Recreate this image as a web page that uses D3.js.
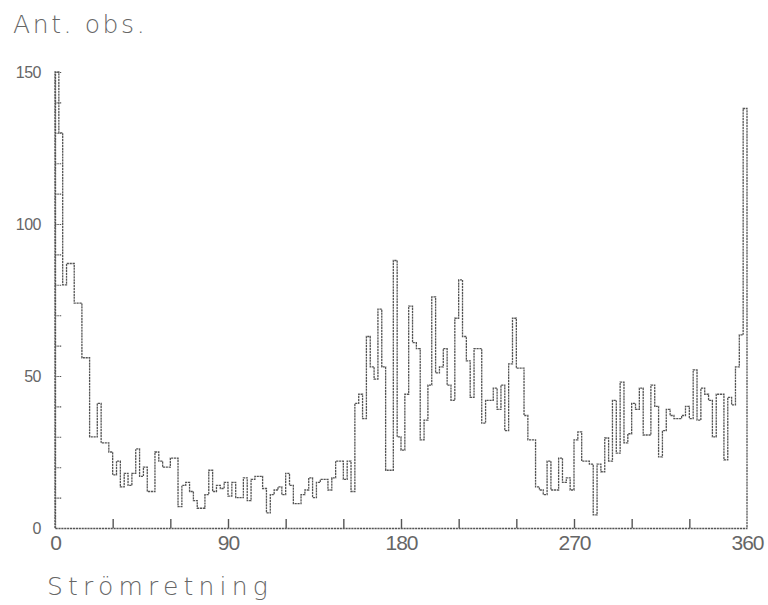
<!DOCTYPE html>
<html><head><meta charset="utf-8">
<script src="https://cdn.jsdelivr.net/npm/d3@7"></script>
<style>
html,body{margin:0;padding:0;background:#fff;}
svg{display:block;}
</style>
</head><body>
<svg id="chart" width="768" height="605"></svg>
<script>
// Bin width in degrees (2° bins from 0 to 360)
const binWidth = 2;
// Observation counts per 2° direction bin (0–2, 2–4, ..., 358–360)
const counts = [
150,130,80,87,87,74,74,56,56,30,
30,41,28,28,25,17.5,22,13.5,18,14,
18,26,17,20,12,12,25,22,20,20,
23,23,7,14,15,12,9,6.5,6.5,11,
19,12,14,13,15,10.5,15,10,10,16.5,
9,16,17,17,13,5,11,12.5,13.5,11,
18,14,8,8,11,12.5,16.5,10,15,16,
16,12.5,16.5,22,22,16,22,12,41,44,
36,63,53,49,72,53,19,19,88,30,
25.6,44,73,61,59,29,35.5,47,76,51,
53,59,47,42,69,81.6,63,55,43,59,
59,34.5,42,42,46,39,47,32,54,69,
52.6,52.6,37,29,29,13.5,12.5,11,22,12.5,
12.5,23,15,16.5,12.5,29,31.6,22,22,21,
4.3,21,18.5,29.6,22,42,24.6,48,28,31,
41,39,46,30.6,30.6,47,40,23.4,32,39,
37,36,36,37,40,36,52,35.5,46,44,
42,30,44,44,22.4,43,40.5,53,63.5,138
];
const xLabels = [0, 90, 180, 270, 360];
const xTickValues = [0,30,60,90,120,150,180,210,240,270,300,330,360];
const yLabels = [0, 50, 100, 150];
const yTickValues = [0,10,20,30,40,50,60,70,80,90,100,110,120,130,140,150];
const yTitle = "Ant. obs.";
const xTitle = "Strömretning";

const svg = d3.select("#chart");
const x = d3.scaleLinear().domain([0, 360]).range([55, 747]);
const y = d3.scaleLinear().domain([0, 150]).range([528, 72]);
const ink = "#555";
const dash = "2.2,0.7";

// histogram step outline
const pts = counts.map((v, i) => ({deg: i * binWidth, v}));
pts.push({deg: 360, v: counts[counts.length - 1]});
const line = d3.line().x(d => x(d.deg)).y(d => y(d.v)).curve(d3.curveStepAfter);
let d = "M" + x(0) + "," + y(0) + "L" + x(0) + "," + y(counts[0]);
d += line(pts).replace(/^M[^L]*/, "");
d += "L" + x(360) + "," + y(0);
svg.append("path").attr("d", d)
  .attr("fill", "none").attr("stroke", ink).attr("stroke-width", 1.3)
  .attr("stroke-dasharray", dash);

// x axis
const xAxis = d3.axisBottom(x).tickValues(xTickValues).tickSize(-9).tickSizeOuter(0)
  .tickPadding(6).tickFormat(v => xLabels.includes(v) ? v : "");
const gx = svg.append("g").attr("transform", `translate(0,${y(0)})`).call(xAxis);
gx.select(".domain").attr("stroke", ink).attr("stroke-width", 1.3).attr("stroke-dasharray", dash);
gx.selectAll(".tick line").attr("stroke", ink).attr("stroke-width", 1.4)
  .attr("opacity", (v) => (v === 0 || v === 360) ? 0 : 1);
gx.selectAll(".tick text").attr("fill", "#666").attr("font-family", "Liberation Sans, Arial, sans-serif")
  .attr("font-size", 21).attr("letter-spacing", -1).attr("dy", "0.75em");

// y axis
const yAxis = d3.axisLeft(y).tickValues(yTickValues).tickSize(-7).tickSizeOuter(0)
  .tickPadding(14).tickFormat(v => yLabels.includes(v) ? v : "");
const gy = svg.append("g").attr("transform", `translate(${x(0)},0)`).call(yAxis);
gy.select(".domain").attr("stroke", ink).attr("stroke-width", 1.3).attr("stroke-dasharray", dash);
gy.selectAll(".tick line").attr("stroke", ink).attr("stroke-width", 1.1).attr("stroke-dasharray", "1.5,0.8")
  .attr("opacity", v => v === 0 ? 0 : 1);
gy.selectAll(".tick text").attr("fill", "#666").attr("font-family", "Liberation Sans, Arial, sans-serif")
  .attr("font-size", 16).attr("letter-spacing", -0.5);

// titles
svg.append("text").attr("x", 13).attr("y", 33).text(yTitle)
  .attr("fill", "#666").attr("font-family", "DejaVu Sans, sans-serif")
  .attr("font-size", 25).attr("font-weight", 300).attr("letter-spacing", 2.6);
svg.append("text").attr("x", 47).attr("y", 595).text(xTitle)
  .attr("fill", "#666").attr("font-family", "DejaVu Sans, sans-serif")
  .attr("font-size", 25).attr("font-weight", 300).attr("letter-spacing", 5.2);
</script>
</body></html>
